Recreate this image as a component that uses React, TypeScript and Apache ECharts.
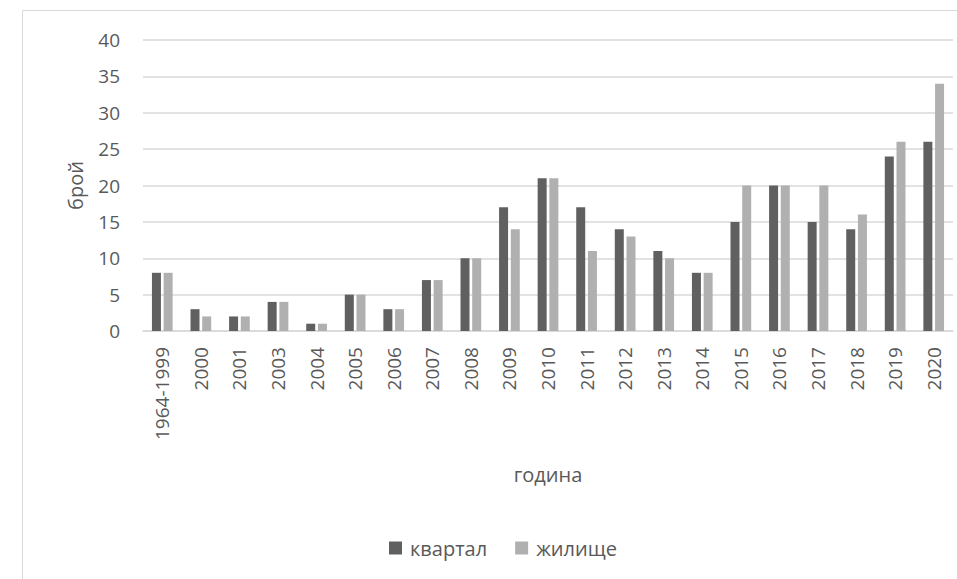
import React, { useEffect, useRef } from "react";
import * as echarts from "echarts";

const categories = ["1964-1999","2000","2001","2003","2004","2005","2006","2007","2008","2009","2010","2011","2012","2013","2014","2015","2016","2017","2018","2019","2020"];
const kvartal = [8,3,2,4,1,5,3,7,10,17,21,17,14,11,8,15,20,15,14,24,26];
const zhilishte = [8,2,2,4,1,5,3,7,10,14,21,11,13,10,8,20,20,20,16,26,34];
const seriesNames = ["квартал", "жилище"];

const FONT = "Open Sans";
const TXT = "#595959";

export default function App() {
  const ref = useRef<HTMLDivElement>(null);
  useEffect(() => {
    document.body.style.margin = "0";
    const chart = echarts.init(ref.current!, null, { renderer: "svg" });
    chart.setOption({
      animation: false,
      backgroundColor: "#ffffff",
      textStyle: { fontFamily: FONT },
      graphic: [
        {
          type: "rect",
          shape: { x: 22.5, y: 10.5, width: 1000, height: 1000 },
          style: { fill: "none", stroke: "#d9d9d9", lineWidth: 1 },
          silent: true,
        },
      ],
      grid: { left: 143, right: 4, top: 40, bottom: 248 },
      legend: {
        data: seriesNames,
        top: 533,
        left: 384,
        itemWidth: 13,
        itemHeight: 13,
        itemGap: 28,
        icon: "rect",
        textStyle: { color: TXT, fontSize: 20, fontFamily: FONT, padding: [0, 0, 0, 3] },
      },
      xAxis: {
        type: "category",
        data: categories,
        name: "година",
        nameLocation: "middle",
        nameGap: 133,
        nameTextStyle: { color: TXT, fontSize: 20, fontFamily: FONT },
        axisLine: { lineStyle: { color: "#d9d9d9", width: 1.5 } },
        axisTick: { show: false },
        axisLabel: { rotate: 90, color: TXT, fontSize: 19, margin: 16, fontFamily: FONT },
      },
      yAxis: {
        type: "value",
        min: 0,
        max: 40,
        interval: 5,
        name: "брой",
        nameLocation: "middle",
        nameGap: 58,
        nameTextStyle: { color: TXT, fontSize: 20, fontFamily: FONT },
        axisLine: { show: false },
        axisTick: { show: false },
        axisLabel: { color: TXT, fontSize: 19, margin: 23, fontFamily: FONT },
        splitLine: { lineStyle: { color: "#d9d9d9", width: 1.5 } },
      },
      series: [
        {
          name: seriesNames[0],
          type: "bar",
          data: kvartal,
          barWidth: 9,
          barGap: "30%",
          itemStyle: { color: "#606060" },
        },
        {
          name: seriesNames[1],
          type: "bar",
          data: zhilishte,
          barWidth: 9,
          barGap: "30%",
          itemStyle: { color: "#b0b0b0" },
        },
      ],
    });
    return () => chart.dispose();
  }, []);
  return <div ref={ref} style={{ width: 957, height: 579, position: "absolute", left: 0, top: 0 }} />;
}
